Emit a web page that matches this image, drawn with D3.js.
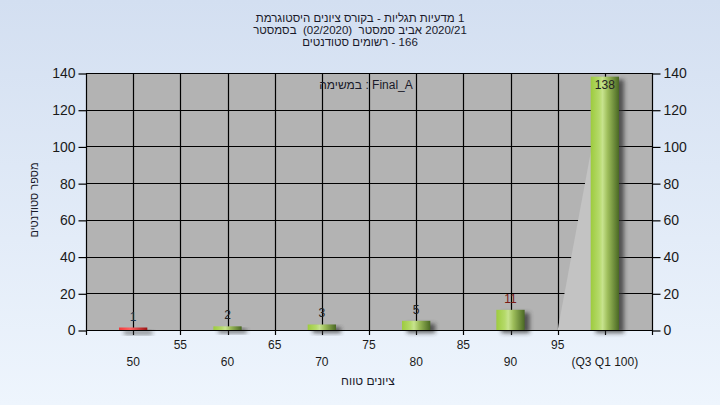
<!DOCTYPE html>
<html><head><meta charset="utf-8">
<script src="https://cdn.jsdelivr.net/npm/d3@7/dist/d3.min.js"></script>
<style>
html,body{margin:0;padding:0;}
svg{display:block;font-family:"Liberation Sans","DejaVu Sans",sans-serif;}
</style></head>
<body><svg id="c" width="720" height="405"></svg>
<script>
// ---- data ----
const categories = [50, 60, 70, 80, 90, 100];
const counts = [1, 2, 3, 5, 11, 138];
const barColors = ["red", "green", "green", "green", "green", "green"];
const labelColors = ["#1d3550", "#222", "#222", "#222", "#7a1a14", "#222"];
const upperTicks = [55, 65, 75, 85, 95];
const lowerTickLabels = ["50", "60", "70", "80", "90", "(Q3 Q1 100)"];
const yTicks = [0, 20, 40, 60, 80, 100, 120, 140];
const titleLines = ["היסטוגרמת ציונים בקורס - תגליות מדעיות 1", "בסמסטר  (02/2020)  סמסטר אביב 2020/21", "סטודנטים רשומים - 166"];
const taskLabel = "במשימה : Final_A";
const xTitle = "טווח ציונים";
const yTitle = "מספר סטודנטים";

const svg = d3.select("#c");
const W = 720, H = 405;
const L = 86, R = 652, T = 73, B = 330;
const x = d3.scaleLinear().domain([45, 105]).range([L, R]);
const y = d3.scaleLinear().domain([0, 140]).range([B, T]);
const halfW = 1.5;

// lay out words left-to-right (as the original renderer does), centred on cx
function drawWords(s, cx, by, size, color) {
  const g = svg.append("g");
  const tokens = s.split(" ");
  const probe = g.append("text").style("font-size", size + "px").text("a a");
  const probe2 = g.append("text").style("font-size", size + "px").text("aa");
  const sp = probe.node().getComputedTextLength() - probe2.node().getComputedTextLength();
  probe.remove(); probe2.remove();
  let pos = 0;
  const items = [];
  tokens.forEach((t, i) => {
    if (t.length) {
      const el = g.append("text").attr("y", by).attr("fill", color).style("font-size", size + "px").text(t);
      const w = el.node().getComputedTextLength();
      items.push({el, pos});
      pos += w;
    }
    if (i < tokens.length - 1) pos += sp;
  });
  const start = cx - pos / 2;
  items.forEach(it => it.el.attr("x", start + it.pos));
  return g;
}

const defs = svg.append("defs");
const bg = defs.append("linearGradient").attr("id", "bg").attr("x1", 0).attr("y1", 0).attr("x2", 0).attr("y2", 1);
bg.append("stop").attr("offset", "0%").attr("stop-color", "#d3dff1");
bg.append("stop").attr("offset", "100%").attr("stop-color", "#eef5fd");
const gg = defs.append("linearGradient").attr("id", "green").attr("x1", 0).attr("y1", 0).attr("x2", 1).attr("y2", 0);
[["0%", "#9dcb3e"], ["30%", "#b5da6a"], ["42%", "#c7e38e"], ["60%", "#9dbd5a"], ["100%", "#4a6824"]].forEach(s => gg.append("stop").attr("offset", s[0]).attr("stop-color", s[1]));
const rg = defs.append("linearGradient").attr("id", "red").attr("x1", 0).attr("y1", 0).attr("x2", 1).attr("y2", 0);
[["0%", "#f03a3a"], ["40%", "#ff6060"], ["100%", "#9a1414"]].forEach(s => rg.append("stop").attr("offset", s[0]).attr("stop-color", s[1]));
const f = defs.append("filter").attr("id", "blur").attr("x", "-50%").attr("y", "-50%").attr("width", "200%").attr("height", "200%");
f.append("feGaussianBlur").attr("stdDeviation", 2);

svg.append("rect").attr("width", W).attr("height", H).attr("fill", "url(#bg)");

// plot area
svg.append("rect").attr("x", L).attr("y", T).attr("width", R - L).attr("height", B - T).attr("fill", "#b3b3b3");

// grid
const gridX = d3.range(50, 101, 5);
svg.append("g").selectAll("line").data(gridX).join("line")
  .attr("x1", d => Math.round(x(d)) + 0.5).attr("x2", d => Math.round(x(d)) + 0.5)
  .attr("y1", T).attr("y2", B + 5).attr("stroke", "#000").attr("stroke-width", 1.2);
svg.append("g").selectAll("line").data(yTicks).join("line")
  .attr("x1", L).attr("x2", R)
  .attr("y1", d => Math.round(y(d)) + 0.5).attr("y2", d => Math.round(y(d)) + 0.5)
  .attr("stroke", "#000").attr("stroke-width", 1.2);

// light triangle behind the last bar
const lastI = categories.length - 1;
svg.append("path")
  .attr("d", d3.line()([[x(categories[lastI] - 5), y(0)], [x(categories[lastI]), y(counts[lastI])], [x(categories[lastI]), y(0)]]) + "Z")
  .attr("fill", "#c3c3c3");

// axes lines
svg.append("line").attr("x1", L + 0.5).attr("x2", L + 0.5).attr("y1", T).attr("y2", B + 5).attr("stroke", "#000").attr("stroke-width", 1.2);
svg.append("line").attr("x1", R + 0.5).attr("x2", R + 0.5).attr("y1", T).attr("y2", B + 5).attr("stroke", "#000").attr("stroke-width", 1.2);

// y axes (left & right)
const leftAx = svg.append("g").attr("transform", `translate(${L + 0.5},0.5)`)
  .call(d3.axisLeft(y).tickValues(yTicks).tickSize(8).tickPadding(3).tickSizeOuter(0));
const rightAx = svg.append("g").attr("transform", `translate(${R + 0.5},0.5)`)
  .call(d3.axisRight(y).tickValues(yTicks).tickSize(8).tickPadding(3).tickSizeOuter(0));
[leftAx, rightAx].forEach(a => {
  a.select(".domain").remove();
  a.selectAll("line").attr("stroke", "#000").attr("stroke-width", 1.2);
  a.selectAll("text").attr("fill", "#1a1a1a").style("font-size", "14px").style("font-family", "Liberation Sans, sans-serif");
});

// bars: shadow then bar
const bars = categories.map((c, i) => ({c, v: counts[i], col: barColors[i], lc: labelColors[i]}));
svg.append("g").selectAll("rect").data(bars).join("rect")
  .attr("x", d => x(d.c - halfW) + 5).attr("width", d => x(d.c + halfW) - x(d.c - halfW))
  .attr("y", d => y(d.v) + 3).attr("height", d => Math.max(3, y(0) - y(d.v)))
  .attr("fill", "#303030").attr("opacity", 0.75).attr("filter", "url(#blur)");
svg.append("g").selectAll("rect").data(bars).join("rect")
  .attr("x", d => x(d.c - halfW)).attr("width", d => x(d.c + halfW) - x(d.c - halfW))
  .attr("y", d => Math.min(y(d.v), y(0) - 2.5)).attr("height", d => Math.max(2.5, y(0) - y(d.v)))
  .attr("fill", d => d.col === "red" ? "url(#red)" : "url(#green)");

// x axis baseline
svg.append("line").attr("x1", L).attr("x2", R + 1).attr("y1", B + 0.5).attr("y2", B + 0.5).attr("stroke", "#000").attr("stroke-width", 1.2);

// value labels
svg.append("g").selectAll("text").data(bars).join("text")
  .attr("x", d => x(d.c)).attr("text-anchor", "middle")
  .attr("y", d => Math.max(y(d.v) - 7, T + 16))
  .attr("fill", d => d.lc).style("font-size", "12px")
  .text(d => d.v);

// x tick labels
svg.append("g").selectAll("text").data(upperTicks).join("text")
  .attr("x", d => x(d)).attr("y", 349).attr("text-anchor", "middle")
  .attr("fill", "#1a1a1a").style("font-size", "12px").text(d => d);
svg.append("g").selectAll("text").data(categories).join("text")
  .attr("x", d => x(d)).attr("y", 366).attr("text-anchor", "middle")
  .attr("fill", "#1a1a1a").style("font-size", "12px").text((d, i) => lowerTickLabels[i]);

// titles
titleLines.forEach((t, i) => drawWords(t, 360, 22 + i * 12, 11.5, "#1a1a2a"));
drawWords(taskLabel, 366, 89, 12, "#1a1a2a");
drawWords(xTitle, 368, 385, 12, "#1a1a2a");

svg.append("text").attr("transform", "translate(38,200) rotate(-90)").attr("text-anchor", "middle")
  .attr("fill", "#1a1a2a").style("font-size", "11px").text(yTitle);
</script></body></html>
